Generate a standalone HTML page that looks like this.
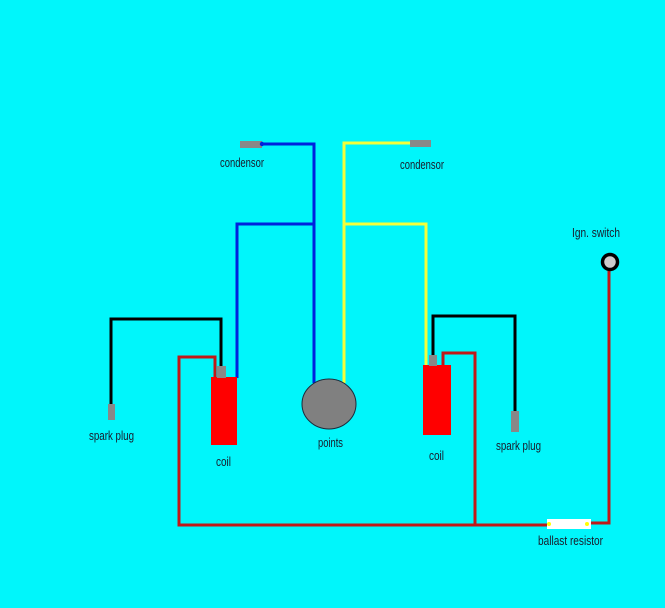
<!DOCTYPE html>
<html><head><meta charset="utf-8"><style>
html,body{margin:0;padding:0;background:#00f6fb;}
svg{display:block}
text{font-family:"Liberation Sans Narrow","Liberation Sans",sans-serif;font-size:13px;fill:#1a1a2a}
</style></head><body>
<svg width="665" height="608" viewBox="0 0 665 608" xmlns="http://www.w3.org/2000/svg">
<rect width="665" height="608" fill="#00f6fb"/>
<g fill="none" stroke-width="3" stroke-linejoin="miter">
<polyline points="262,144 314,144 314,383" stroke="#0022dd"/>
<polyline points="314,224 237,224 237,378" stroke="#0022dd"/>
<polyline points="410,143 344,143 344,383" stroke="#f4ff3a"/>
<polyline points="344,224 426,224 426,366" stroke="#f4ff3a"/>
<polyline points="221,367 221,319 111,319 111,404" stroke="#000"/>
<polyline points="433,356 433,316 515,316 515,411" stroke="#000"/>
<polyline points="215,378 215,357 179,357 179,525 548,525" stroke="#c01818"/>
<polyline points="443,366 443,353 475,353 475,525" stroke="#c01818"/>
<polyline points="590,523 609,523 609,266" stroke="#c01818"/>
</g>
<rect x="240" y="141" width="22" height="7" fill="#888"/>
<circle cx="262" cy="144" r="2.2" fill="#0022dd"/>
<rect x="410" y="140" width="21" height="7" fill="#888"/>
<rect x="211" y="377" width="26" height="68" fill="#f00"/>
<rect x="217" y="366" width="9" height="12" fill="#888"/>
<rect x="423" y="365" width="28" height="70" fill="#f00"/>
<rect x="429" y="355" width="8" height="11" fill="#888"/>
<rect x="108" y="404" width="7" height="16" fill="#888"/>
<rect x="511" y="411" width="8" height="21" fill="#888"/>
<ellipse cx="329" cy="404" rx="27" ry="25" fill="#808080" stroke="#1a2a3a" stroke-width="1"/>
<rect x="547" y="519" width="44" height="10" fill="#fff"/>
<circle cx="549" cy="524" r="2" fill="#ff0"/>
<circle cx="587" cy="524" r="2" fill="#ff0"/>
<circle cx="610" cy="262" r="7.5" fill="#ccc" stroke="#000" stroke-width="3.5"/>
<text x="220" y="167" textLength="44" lengthAdjust="spacingAndGlyphs">condensor</text>
<text x="400" y="169" textLength="44" lengthAdjust="spacingAndGlyphs">condensor</text>
<text x="572" y="237" textLength="48" lengthAdjust="spacingAndGlyphs">Ign. switch</text>
<text x="89" y="440" textLength="45" lengthAdjust="spacingAndGlyphs">spark plug</text>
<text x="216" y="466" textLength="15" lengthAdjust="spacingAndGlyphs">coil</text>
<text x="318" y="447" textLength="25" lengthAdjust="spacingAndGlyphs">points</text>
<text x="429" y="460" textLength="15" lengthAdjust="spacingAndGlyphs">coil</text>
<text x="496" y="450" textLength="45" lengthAdjust="spacingAndGlyphs">spark plug</text>
<text x="538" y="545" textLength="65" lengthAdjust="spacingAndGlyphs">ballast resistor</text>
</svg>
</body></html>
